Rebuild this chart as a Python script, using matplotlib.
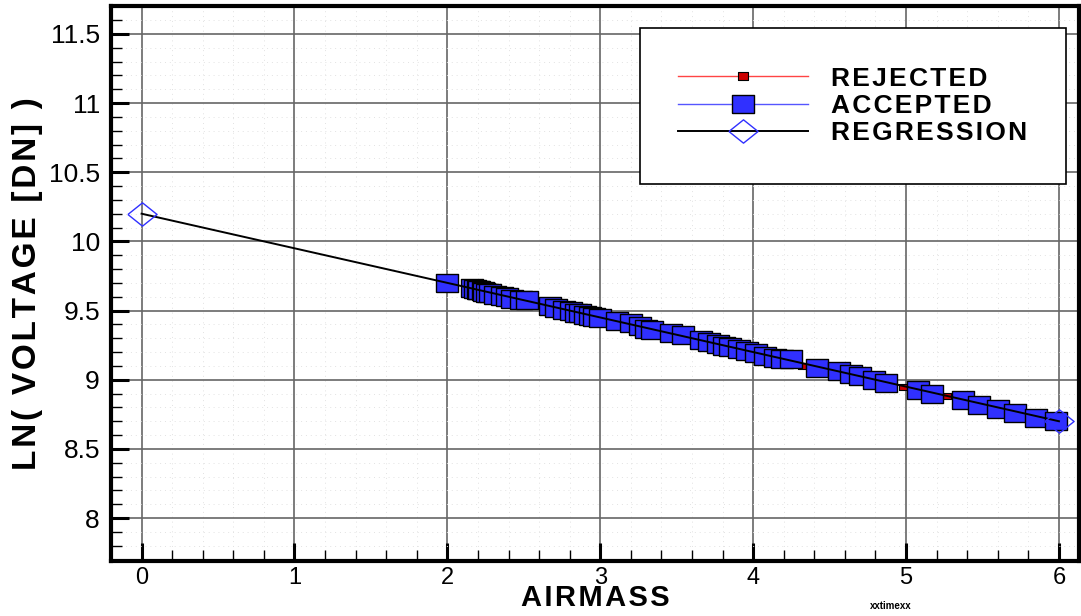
import matplotlib
matplotlib.use("Agg")
import matplotlib.pyplot as plt
from matplotlib.lines import Line2D
from matplotlib.ticker import MultipleLocator

plt.rcParams["font.family"] = ["Liberation Sans", "DejaVu Sans"]

# accepted measurements (airmass, ln voltage)
acc_x = [2.00, 2.16, 2.18, 2.20, 2.21, 2.23, 2.24, 2.26, 2.28, 2.31, 2.36, 2.39,
         2.42, 2.48, 2.52, 2.67, 2.71, 2.76, 2.81, 2.84, 2.87, 2.90, 2.93, 2.96,
         3.00, 3.11, 3.20, 3.26, 3.30, 3.34, 3.46, 3.54, 3.66, 3.71, 3.77, 3.81,
         3.85, 3.91, 3.96, 4.02, 4.08, 4.14, 4.19, 4.25, 4.42, 4.56, 4.64, 4.70,
         4.79, 4.87, 5.08, 5.17, 5.37, 5.48, 5.60, 5.71, 5.85, 5.98]
acc_y = [9.700, 9.665, 9.655, 9.650, 9.645, 9.640, 9.635, 9.630, 9.625, 9.615, 9.605, 9.595,
         9.585, 9.575, 9.575, 9.530, 9.520, 9.505, 9.495, 9.485, 9.480, 9.470, 9.460, 9.455,
         9.445, 9.425, 9.410, 9.390, 9.370, 9.360, 9.335, 9.320, 9.285, 9.270, 9.255, 9.245,
         9.235, 9.220, 9.210, 9.195, 9.175, 9.160, 9.150, 9.150, 9.085, 9.060, 9.040, 9.025,
         9.000, 8.980, 8.925, 8.900, 8.850, 8.820, 8.790, 8.760, 8.723, 8.700]

# rejected measurements
rej_x = [2.44, 4.24, 4.28, 4.32, 4.90, 4.98, 5.27]
rej_y = [9.59, 9.135, 9.12, 9.10, 8.973, 8.95, 8.88]

# regression end points
reg_x = [0.0, 6.0]
reg_y = [10.2, 8.7]

x_ticks = [0, 1, 2, 3, 4, 5, 6]
y_ticks = [8, 8.5, 9, 9.5, 10, 10.5, 11, 11.5]
labels = ["REJECTED", "ACCEPTED", "REGRESSION"]

blue = "#3030ff"
red = "#cc0000"
rect = [(-1, -0.8), (1, -0.8), (1, 0.8), (-1, 0.8), (-1, -0.8)]
diamond = [(-1, 0), (0, 0.8), (1, 0), (0, -0.8), (-1, 0)]
FAM = ["Liberation Sans", "DejaVu Sans"]


def spaced(s):
    # slight letter spacing like the original
    return "\u200a".join(s)


fig = plt.figure(figsize=(10.81, 6.16), dpi=100)
ax = fig.add_axes([0.1027, 0.0893, 0.8953, 0.9007])

ax.plot(rej_x, rej_y, ls="none", marker=rect, ms=6, mfc=red, mec="black", mew=0.8, zorder=3)
ax.plot(acc_x, acc_y, ls="none", marker=rect, ms=15.5, mfc=blue, mec="black", mew=1.0, zorder=4)
ax.plot(reg_x, reg_y, color="black", lw=1.4, zorder=5)
ax.plot(reg_x, reg_y, ls="none", marker=diamond, ms=21, mfc="none", mec=blue, mew=1.0, zorder=6)

ax.set_xlim(-0.2, 6.13)
ax.set_ylim(7.69, 11.7)
ax.set_xticks(x_ticks)
ax.set_yticks(y_ticks)
ax.set_yticklabels([f"{v:g}" for v in y_ticks])
ax.xaxis.set_minor_locator(MultipleLocator(0.2))
ax.yaxis.set_minor_locator(MultipleLocator(0.1))

ax.tick_params(which="major", direction="in", length=13, width=2.2)
ax.tick_params(which="minor", direction="in", length=8, width=1.0)
ax.tick_params(axis="x", which="major", pad=4, labelsize=17)
ax.tick_params(axis="y", which="major", pad=8, labelsize=19)

ax.grid(True, which="major", color="#666666", lw=1.2, zorder=1)
ax.grid(True, which="minor", color="#e2e2e2", lw=0.7, ls=(0, (1, 4)), zorder=1)
ax.set_axisbelow(True)

for side in ["left", "bottom", "top", "right"]:
    ax.spines[side].set_linewidth(3)

ax.set_xlabel(spaced("AIRMASS"), fontsize=21, fontweight="bold", labelpad=-3, family=FAM)
ax.set_ylabel(spaced("LN( VOLTAGE [DN] )"), fontsize=24, fontweight="bold", labelpad=4, family=FAM)

handles = [
    Line2D([], [], color="#ff4444", lw=1, marker=rect, ms=7, mfc=red, mec="black", mew=0.8),
    Line2D([], [], color="#5555ff", lw=1, marker=rect, ms=15.5, mfc=blue, mec="black", mew=1.0),
    Line2D([], [], color="black", lw=1.4, marker=diamond, ms=21, mfc="none", mec=blue, mew=1.0),
]
leg = ax.legend(handles, [spaced(s) for s in labels], loc="upper right",
                bbox_to_anchor=(0.9866, 0.960), borderaxespad=0,
                prop={"weight": "bold", "size": 19, "family": FAM},
                handlelength=4.9, handletextpad=0.9, labelspacing=0.13, borderpad=1.45,
                numpoints=1, fancybox=False, framealpha=1, edgecolor="black")
leg.get_frame().set_linewidth(1.2)
leg.set_zorder(10)

fig.text(0.805, 0.012, "xxtimexx", fontsize=7, fontweight="bold", family=FAM)

fig.savefig("out.png", dpi=100)
